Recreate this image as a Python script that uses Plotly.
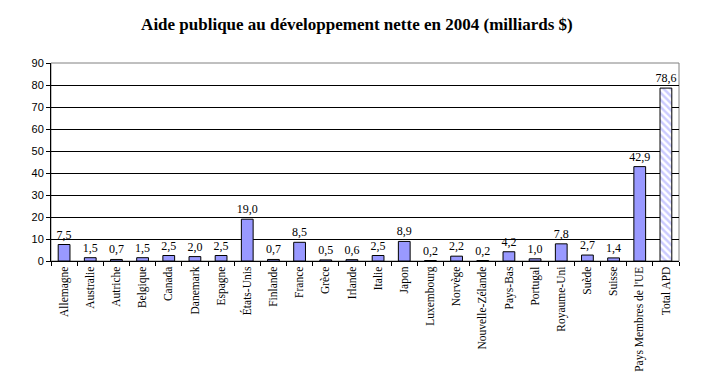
import plotly.graph_objects as go

categories = ["Allemagne", "Australie", "Autriche", "Belgique", "Canada", "Danemark",
              "Espagne", "États-Unis", "Finlande", "France", "Grèce", "Irlande", "Italie",
              "Japon", "Luxembourg", "Norvège", "Nouvelle-Zélande", "Pays-Bas", "Portugal",
              "Royaume-Uni", "Suède", "Suisse", "Pays Membres de l'UE", "Total APD"]
values = [7.5, 1.5, 0.7, 1.5, 2.5, 2.0, 2.5, 19.0, 0.7, 8.5, 0.5, 0.6, 2.5,
          8.9, 0.2, 2.2, 0.2, 4.2, 1.0, 7.8, 2.7, 1.4, 42.9, 78.6]
y_ticks = [0, 10, 20, 30, 40, 50, 60, 70, 80, 90]

labels = [f"{v:.1f}".replace(".", ",") for v in values]
shapes_pat = [""] * (len(values) - 1) + ["\\"]

fig = go.Figure(go.Bar(
    x=categories, y=values, text=labels, textposition="outside",
    textfont=dict(family="Liberation Serif", size=12, color="black"),
    outsidetextfont=dict(family="Liberation Serif", size=12, color="black"),
    constraintext="none",
    cliponaxis=False,
    width=0.45,
    hoverinfo="skip",
    marker=dict(color="#9999FF", line=dict(color="black", width=1),
                pattern=dict(shape=shapes_pat, fgcolor="#9999FF", bgcolor="white",
                             size=5, solidity=0.5)),
))

fig.update_layout(
    width=711, height=383,
    margin=dict(l=51, r=32, t=63, b=122, autoexpand=False),
    paper_bgcolor="white", plot_bgcolor="white",
    title=dict(text="<b>Aide publique au développement nette en 2004 (milliards $)</b>",
               x=0.502, xanchor="center", y=0.937, yanchor="middle",
               font=dict(family="Liberation Serif", size=17, color="black")),
    showlegend=False,
    shapes=[dict(type="rect", xref="paper", yref="paper", x0=0, y0=0, x1=1, y1=1,
                 line=dict(color="#808080", width=1), layer="below")],
)
fig.update_xaxes(
    type="category", tickangle=-90, tickson="boundaries", ticks="outside", ticklen=4,
    tickcolor="black", showline=True, linecolor="black", linewidth=1,
    tickfont=dict(family="Liberation Serif", size=11.5, color="black"),
    showgrid=False, automargin=False,
)
fig.update_yaxes(
    range=[0, 90], tickvals=y_ticks, ticks="outside", ticklen=4, tickcolor="black",
    showline=True, linecolor="black", linewidth=1,
    showgrid=True, gridcolor="black", gridwidth=1, zeroline=False,
    tickfont=dict(family="Liberation Sans", size=11, color="black"),
    automargin=False,
)

fig.write_html("out.html", config={"displayModeBar": False},
               post_script="document.body.style.margin='0';document.body.style.overflow='hidden';")
